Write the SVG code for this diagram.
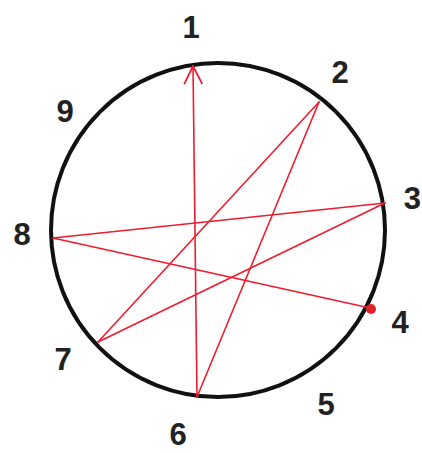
<svg xmlns="http://www.w3.org/2000/svg" width="422" height="453" viewBox="0 0 422 453">
<style>
.lbl{font-family:"Liberation Sans","DejaVu Sans",sans-serif;font-weight:bold;font-size:31px;fill:#222;text-anchor:middle}
.ln{stroke:#ee1c2e;stroke-width:1.6;fill:none;stroke-linecap:round}
</style>
<defs>
<marker id="arr" viewBox="0 0 20 20" refX="19" refY="10" markerWidth="20" markerHeight="20" markerUnits="userSpaceOnUse" orient="auto">
<path d="M1,1 L19,10 L1,19" fill="none" stroke="#ee1c2e" stroke-width="1.8"/>
</marker>
</defs>
<rect width="422" height="453" fill="#fff"/>
<circle id="dial" cx="218" cy="230" r="167" fill="none" stroke="#111" stroke-width="4"/>
<g id="connectors">
<line class="ln" x1="197" y1="397" x2="193" y2="66" marker-end="url(#arr)"/>
<line class="ln" x1="197" y1="397" x2="319" y2="102"/>
<line class="ln" x1="319" y1="102" x2="98" y2="342"/>
<line class="ln" x1="98" y1="342" x2="385" y2="203"/>
<line class="ln" x1="385" y1="203" x2="53" y2="238"/>
<line class="ln" x1="53" y1="238" x2="370" y2="308"/>
<circle cx="371" cy="309" r="5" fill="#e0242a"/>
</g>
<g id="n1"><text class="lbl" x="191" y="38">1</text></g>
<g id="n2"><text class="lbl" x="340" y="83">2</text></g>
<g id="n3"><text class="lbl" x="421" y="209" style="text-anchor:end">3</text></g>
<g id="n4"><text class="lbl" x="400" y="333">4</text></g>
<g id="n5"><text class="lbl" x="326" y="415">5</text></g>
<g id="n6"><text class="lbl" x="178" y="445">6</text></g>
<g id="n7"><text class="lbl" x="63" y="370">7</text></g>
<g id="n8"><text class="lbl" x="22" y="245">8</text></g>
<g id="n9"><text class="lbl" x="65" y="122">9</text></g>
</svg>
